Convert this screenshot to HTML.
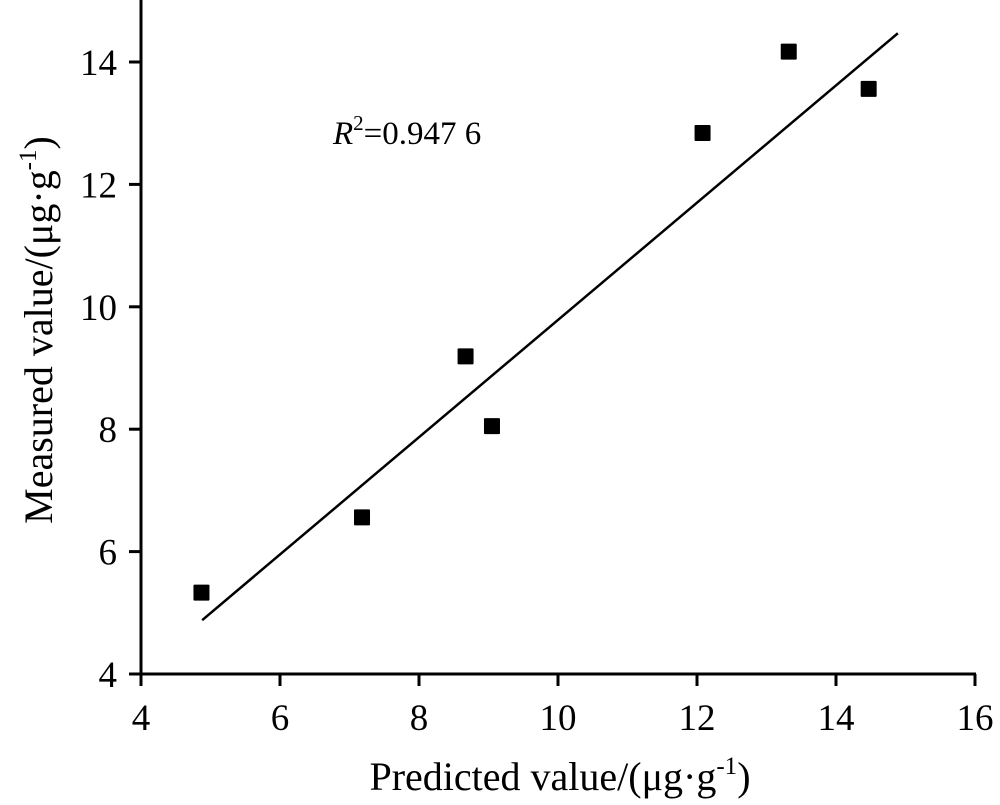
<!DOCTYPE html>
<html><head><meta charset="utf-8"><style>
body{margin:0;background:#fff}
svg text{font-family:"Liberation Serif",serif;fill:#000}
</style></head><body>
<svg id="chart" width="1000" height="800" xmlns="http://www.w3.org/2000/svg"></svg>
<script>
const xVals=[4.87,7.18,8.67,9.05,12.08,13.32,14.47];
const yVals=[5.33,6.56,9.19,8.05,12.84,14.17,13.56];
const xTicks=[4,6,8,10,12,14,16];
const yTicks=[4,6,8,10,12,14];
const fitLine=[[4.88,4.88],[14.89,14.47]];
const ns="http://www.w3.org/2000/svg";
const svg=document.getElementById('chart');
const X=v=>141+(v-4)*69.5;
const Y=v=>674-(v-4)*61.2;
function mk(t,a){const e=document.createElementNS(ns,t);for(const k in a)e.setAttribute(k,a[k]);svg.appendChild(e);return e;}
let e;
e=mk('line',{x1:141,y1:0,x2:141,y2:686,stroke:'#000','stroke-width':3});


e=mk('line',{x1:129,y1:674,x2:976,y2:674,stroke:'#000','stroke-width':3});


xTicks.forEach(v=>{
 e=mk('line',{x1:X(v),y1:674,x2:X(v),y2:686,stroke:'#000','stroke-width':3});
 
 
 e=mk('text',{x:X(v),y:730,'font-size':37,'text-anchor':'middle'});e.textContent=v;
 
 
});
yTicks.forEach(v=>{
 e=mk('line',{x1:129,y1:Y(v),x2:141,y2:Y(v),stroke:'#000','stroke-width':3});
 
 
 e=mk('text',{x:117,y:Y(v)+13,'font-size':37,'text-anchor':'end'});e.textContent=v;
 
 
});
e=mk('line',{x1:X(fitLine[0][0]),y1:Y(fitLine[0][1]),x2:X(fitLine[1][0]),y2:Y(fitLine[1][1]),stroke:'#000','stroke-width':2.5});


xVals.forEach((v,i)=>{
 e=mk('rect',{x:X(v)-8,y:Y(yVals[i])-8,width:16,height:16,fill:'#000',rx:1});
 
 
});
e=mk('text',{x:333,y:144,'font-size':33});
e.innerHTML='<tspan font-style="italic">R</tspan><tspan font-size="21" dy="-14">2</tspan><tspan dy="14">=0.947 6</tspan>';


e=mk('text',{x:560,y:790,'font-size':40,'text-anchor':'middle'});
e.innerHTML='Predicted value/(μg·g<tspan font-size="25" dy="-16">-1</tspan><tspan dy="16">)</tspan>';


e=mk('text',{x:0,y:0,'font-size':40,'text-anchor':'middle',transform:'translate(52,330) rotate(-90)'});
e.innerHTML='Measured value/(μg·g<tspan font-size="25" dy="-16">-1</tspan><tspan dy="16">)</tspan>';


</script>
</body></html>
